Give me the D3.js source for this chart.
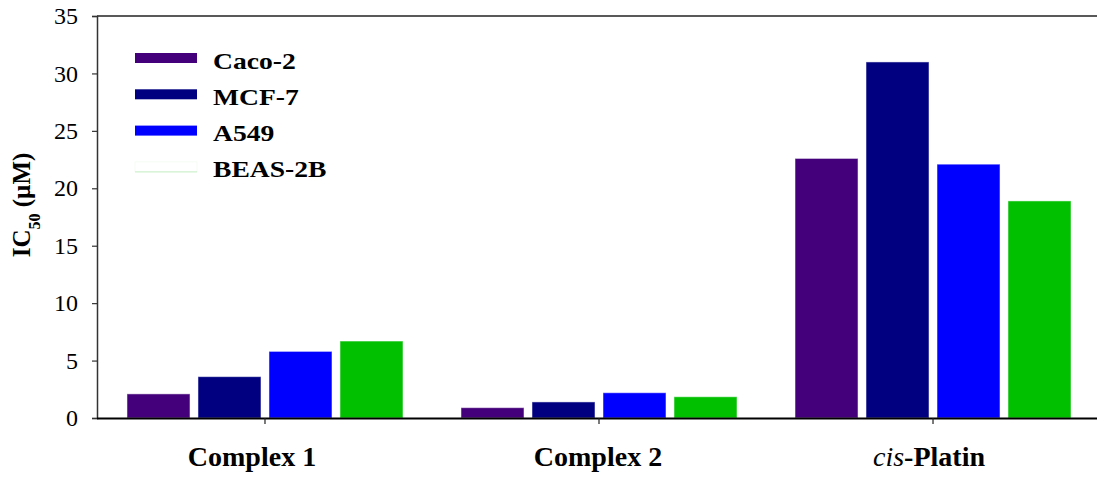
<!DOCTYPE html>
<html>
<head>
<meta charset="utf-8">
<script src="https://cdn.jsdelivr.net/npm/d3@7"></script>
<style>
  html, body { margin: 0; padding: 0; background: #fff; }
  svg { display: block; }
</style>
</head>
<body>
<svg id="fig" width="1097" height="478"></svg>
<script>
// ---- data ----
const categories = ["Complex 1", "Complex 2", "cis-Platin"];
const series = ["Caco-2", "MCF-7", "A549", "BEAS-2B"];
const caco2 = [2.1, 0.9, 22.6];
const mcf7 = [3.6, 1.4, 31.0];
const a549 = [5.8, 2.2, 22.1];
const beas2b = [6.7, 1.85, 18.9];
const yTicks = [0, 5, 10, 15, 20, 25, 30, 35];
const colors = ["#44007A", "#000080", "#0000FF", "#00C000"];

const values = [caco2, mcf7, a549, beas2b];

(function () {
const FONT = "Liberation Serif";
const svg = d3.select("#fig");
const mLeft = 97, mTop = 16, mBottom = 418;

const x0 = d3.scaleBand().domain(categories).range([98, 1100])
  .paddingInner(0.1737).paddingOuter(0.0868);
const x1 = d3.scaleBand().domain(series).range([0, x0.bandwidth()])
  .paddingInner(0.1127).paddingOuter(0);
const y = d3.scaleLinear().domain([0, 35]).range([mBottom, mTop]);

// bars
const groups = svg.append("g").selectAll("g")
  .data(categories).join("g")
  .attr("transform", d => `translate(${x0(d)},0)`);

groups.selectAll("rect")
  .data((c, ci) => series.map((s, si) => ({ s, si, v: values[si][ci] })))
  .join("rect")
  .attr("x", d => x1(d.s))
  .attr("y", d => y(d.v))
  .attr("width", x1.bandwidth())
  .attr("height", d => y(0) - y(d.v))
  .attr("fill", d => colors[d.si])
  .attr("stroke", "#ffffff")
  .attr("stroke-opacity", 0.5)
  .attr("stroke-width", 1);

// top frame line
svg.append("line")
  .attr("x1", mLeft).attr("x2", 1097).attr("y1", mTop).attr("y2", mTop)
  .attr("stroke", "#222").attr("stroke-width", 1.5);

// y axis
const yAxis = svg.append("g")
  .attr("transform", `translate(${mLeft},0)`)
  .call(d3.axisLeft(y).tickValues(yTicks).tickSize(5).tickPadding(14).tickFormat(d3.format("d")));
yAxis.attr("font-family", FONT).attr("font-size", 24);
yAxis.select(".domain").attr("stroke", "#333").attr("stroke-width", 1.5);
yAxis.selectAll(".tick line").attr("stroke", "#333").attr("stroke-width", 1.2);
yAxis.selectAll(".tick text")
  .attr("font-family", FONT)
  .attr("font-size", 24)
  .attr("fill", "#000");

// x axis
const xAxis = svg.append("g")
  .attr("transform", `translate(0,${mBottom})`)
  .call(d3.axisBottom(x0).tickSize(6).tickFormat(""));
xAxis.select(".domain").attr("d", `M${mLeft},0.5H1097`).attr("stroke", "#000").attr("stroke-width", 1.8);
xAxis.selectAll(".tick line").attr("stroke", "#222").attr("stroke-width", 1.2);

// category labels
const labelDx = [-13, -1, -4];
categories.forEach((c, i) => {
  const t = svg.append("text")
    .attr("x", x0(c) + x0.bandwidth() / 2 + labelDx[i])
    .attr("y", 466)
    .attr("text-anchor", "middle")
    .attr("font-family", FONT)
    .attr("font-size", 28)
    .attr("font-weight", "bold");
  if (c.startsWith("cis-")) {
    t.append("tspan").attr("font-style", "italic").attr("font-weight", "normal").text("cis");
    t.append("tspan").text(c.slice(3));
  } else {
    t.text(c);
  }
});

// y axis title
const yt = svg.append("text")
  .attr("transform", "translate(29.5,205) rotate(-90)")
  .attr("text-anchor", "middle")
  .attr("font-family", FONT)
  .attr("font-size", 25)
  .attr("font-weight", "bold");
yt.append("tspan").text("IC");
yt.append("tspan").attr("dy", 10).attr("font-size", 16).text("50");
yt.append("tspan").attr("dy", -10).text(" (µM)");

// legend
const legend = svg.append("g");
series.forEach((s, i) => {
  const cy = 58 + i * 36.3;
  if (i < 3) {
    legend.append("rect")
      .attr("x", 135).attr("y", cy - 5).attr("width", 62).attr("height", 10)
      .attr("fill", colors[i]);
  } else {
    legend.append("rect")
      .attr("x", 135).attr("y", cy - 5).attr("width", 62).attr("height", 10)
      .attr("fill", "#ffffff").attr("stroke", "#eef9ee").attr("stroke-width", 0.6);
    legend.append("line")
      .attr("x1", 135).attr("x2", 197).attr("y1", cy + 5).attr("y2", cy + 5)
      .attr("stroke", "#c6efc6").attr("stroke-width", 1);
  }
  legend.append("text")
    .attr("transform", `translate(213,${cy + 10.5}) scale(1.15,1)`)
    .attr("font-family", FONT)
    .attr("font-size", 24)
    .attr("font-weight", "bold")
    .text(s);
});
})();
</script>
</body>
</html>
